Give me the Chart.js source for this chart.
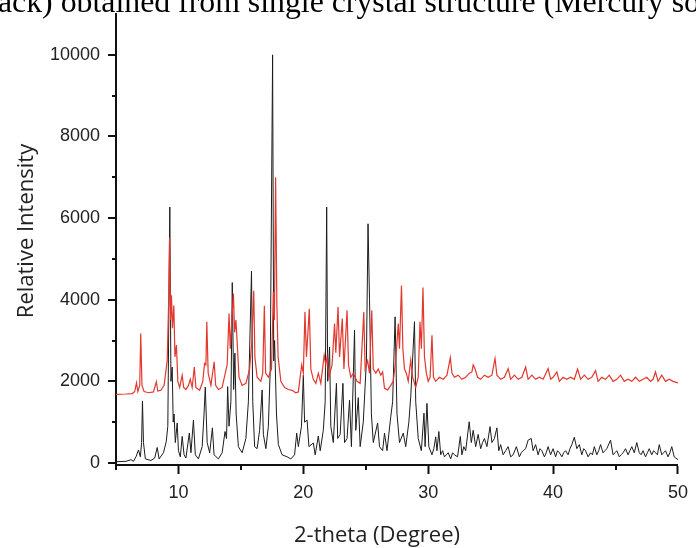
<!DOCTYPE html>
<html>
<head>
<meta charset="utf-8">
<script src="https://cdn.jsdelivr.net/npm/chart.js@4.4.1/dist/chart.umd.min.js"></script>
<style>
  html, body { margin: 0; padding: 0; background: #fff; }
  canvas { display: block; }
</style>
</head>
<body>
<canvas id="pxrd" width="696" height="548"></canvas>
<script>
// Tick positions
const xTicks = [10, 20, 30, 40, 50];
const xMinorTicks = [5, 15, 25, 35, 45];
const yTicks = [0, 2000, 4000, 6000, 8000, 10000];
const yMinorTicks = [1000, 3000, 5000, 7000, 9000];

// Simulated pattern (black), [2-theta, intensity]
const simulatedPattern = [
    [5.0, 30], [5.8, 40], [6.2, 80], [6.4, 40], [6.6, 150], [6.8, 320], [6.95, 150],
    [7.05, 500], [7.12, 1520], [7.2, 500], [7.35, 100], [7.8, 60], [8.1, 120], [8.3, 380],
    [8.45, 100], [8.8, 250], [9.02, 520], [9.15, 900], [9.31, 6270], [9.4, 2000], [9.5, 2350],
    [9.58, 1000], [9.65, 1200], [9.75, 500], [9.9, 980], [10.0, 300], [10.15, 150], [10.3, 650],
    [10.45, 200], [10.6, 120], [10.87, 730], [11.0, 250], [11.2, 1050], [11.35, 200], [11.6, 100],
    [11.9, 400], [12.05, 1200], [12.15, 1860], [12.3, 500], [12.5, 250], [12.72, 860], [12.85, 200],
    [13.2, 100], [13.5, 250], [13.73, 770], [13.85, 600], [13.94, 1870], [14.05, 900], [14.2, 1500],
    [14.31, 4420], [14.42, 1800], [14.52, 2690], [14.62, 1200], [14.8, 400], [15.1, 250], [15.4, 600],
    [15.6, 1500], [15.85, 4700], [15.95, 1500], [16.1, 400], [16.3, 350], [16.5, 800], [16.7, 1790],
    [16.8, 700], [17.0, 350], [17.2, 900], [17.35, 2300], [17.54, 10000], [17.63, 2500], [17.7, 3000],
    [17.85, 1200], [18.0, 450], [18.3, 200], [18.7, 150], [19.0, 100], [19.3, 200], [19.47, 730],
    [19.6, 400], [19.85, 900], [20.0, 2150], [20.1, 1000], [20.3, 1050], [20.45, 400], [20.8, 490],
    [20.95, 200], [21.2, 660], [21.35, 300], [21.6, 800], [21.75, 1500], [21.87, 6270], [21.95, 2000],
    [22.1, 2840], [22.2, 900], [22.4, 500], [22.65, 1950], [22.75, 600], [22.95, 700], [23.17, 1950],
    [23.3, 500], [23.5, 600], [23.7, 1540], [23.85, 400], [24.1, 3250], [24.2, 800], [24.4, 1600],
    [24.55, 400], [24.8, 1000], [25.05, 2500], [25.18, 5860], [25.3, 4000], [25.45, 1200], [25.6, 500],
    [25.95, 980], [26.1, 400], [26.35, 300], [26.5, 730], [26.7, 300], [27.0, 1130], [27.15, 1500],
    [27.35, 3580], [27.5, 1200], [27.7, 500], [28.0, 730], [28.2, 400], [28.45, 1000], [28.6, 1620],
    [28.9, 3460], [29.0, 1500], [29.2, 600], [29.45, 300], [29.66, 1220], [29.75, 400], [29.9, 1460],
    [30.05, 400], [30.3, 200], [30.45, 350], [30.6, 640], [30.7, 300], [30.85, 770], [31.0, 200],
    [31.15, 300], [31.3, 150], [31.45, 200], [31.6, 250], [31.8, 100], [31.95, 250], [32.1, 200],
    [32.35, 150], [32.57, 650], [32.7, 200], [32.85, 400], [33.0, 300], [33.28, 1010], [33.45, 500],
    [33.6, 800], [33.8, 400], [34.0, 700], [34.2, 350], [34.35, 500], [34.5, 600], [34.7, 400],
    [34.95, 890], [35.1, 500], [35.3, 600], [35.5, 860], [35.65, 300], [35.8, 450], [36.0, 200],
    [36.2, 300], [36.4, 400], [36.6, 150], [36.8, 200], [37.06, 400], [37.3, 150], [37.45, 250],
    [37.6, 300], [37.8, 350], [38.0, 560], [38.25, 600], [38.4, 300], [38.6, 450], [38.8, 200],
    [38.95, 350], [39.1, 300], [39.3, 150], [39.45, 250], [39.6, 400], [39.8, 200], [40.0, 350],
    [40.2, 150], [40.35, 300], [40.5, 250], [40.7, 150], [40.85, 250], [41.0, 300], [41.2, 200],
    [41.35, 350], [41.5, 450], [41.7, 630], [41.9, 350], [42.1, 450], [42.3, 200], [42.45, 350],
    [42.6, 300], [42.8, 150], [43.0, 250], [43.15, 200], [43.3, 400], [43.5, 200], [43.65, 300],
    [43.8, 450], [44.0, 250], [44.15, 300], [44.3, 350], [44.6, 560], [44.8, 200], [44.95, 250],
    [45.1, 300], [45.3, 150], [45.45, 200], [45.6, 250], [45.8, 350], [46.0, 200], [46.15, 300],
    [46.3, 400], [46.5, 250], [46.7, 500], [46.9, 250], [47.05, 200], [47.2, 300], [47.4, 150],
    [47.55, 250], [47.7, 350], [47.9, 200], [48.05, 300], [48.2, 250], [48.35, 200], [48.5, 450],
    [48.7, 200], [48.85, 250], [49.0, 300], [49.2, 150], [49.35, 250], [49.5, 400], [49.7, 150],
    [50.0, 80]
];

// Experimental pattern (red), [2-theta, intensity]
const experimentalPattern = [
    [5.0, 1680], [5.8, 1690], [6.3, 1700], [6.5, 1750], [6.64, 1960], [6.75, 1750], [6.9, 1900],
    [6.98, 3170], [7.08, 1900], [7.25, 1750], [7.6, 1720], [8.0, 1740], [8.23, 1990], [8.35, 1760],
    [8.6, 1780], [8.85, 1900], [8.97, 2190], [9.1, 2500], [9.22, 4000], [9.29, 5530], [9.37, 3500],
    [9.44, 4110], [9.52, 3300], [9.63, 3860], [9.72, 2600], [9.84, 2890], [9.95, 2000], [10.1, 1850],
    [10.3, 2150], [10.42, 1850], [10.6, 1800], [10.8, 1900], [10.95, 2050], [11.1, 1850], [11.27, 2350],
    [11.4, 1850], [11.7, 1780], [11.95, 2000], [12.09, 2440], [12.2, 2400], [12.27, 3460], [12.38, 2200],
    [12.6, 1900], [12.86, 2480], [12.98, 1900], [13.2, 1800], [13.5, 1850], [13.75, 2200], [13.9, 2400],
    [14.05, 3660], [14.15, 2800], [14.22, 3200], [14.4, 4150], [14.5, 3200], [14.6, 3500], [14.7, 2970],
    [14.85, 2100], [15.1, 1900], [15.4, 1950], [15.7, 2300], [15.88, 3000], [16.03, 4220], [16.12, 2600],
    [16.3, 2100], [16.6, 2000], [16.75, 2200], [16.88, 3850], [16.98, 2200], [17.2, 2100], [17.45, 2300],
    [17.6, 4200], [17.68, 3500], [17.78, 7000], [17.88, 3900], [17.98, 2600], [18.2, 2000], [18.5, 1850],
    [18.8, 1800], [19.1, 1780], [19.4, 1720], [19.6, 1740], [19.87, 2400], [20.0, 2200], [20.13, 3700],
    [20.25, 2600], [20.48, 3780], [20.6, 2300], [20.8, 2050], [21.0, 1950], [21.2, 2200], [21.4, 1950],
    [21.67, 2640], [21.8, 2400], [21.9, 2600], [22.05, 2100], [22.3, 2400], [22.5, 3415], [22.6, 2700],
    [22.78, 3820], [22.9, 2600], [23.12, 3540], [23.25, 2300], [23.5, 3740], [23.62, 2400], [23.8, 2100],
    [24.0, 2200], [24.3, 2000], [24.55, 1950], [24.84, 3700], [24.95, 2300], [25.15, 2500], [25.3, 2200],
    [25.48, 3740], [25.6, 2300], [25.8, 2200], [26.0, 2300], [26.2, 2150], [26.35, 2230], [26.5, 1830],
    [26.75, 1790], [27.0, 1900], [27.2, 2000], [27.4, 2520], [27.6, 3415], [27.7, 2800], [27.86, 4350],
    [27.97, 2800], [28.1, 2300], [28.25, 2200], [28.4, 2000], [28.6, 2520], [28.75, 2100], [29.0, 1850],
    [29.2, 2100], [29.34, 3460], [29.45, 2800], [29.58, 4300], [29.7, 2600], [29.85, 2200], [30.0, 2000],
    [30.15, 2100], [30.3, 3130], [30.42, 2100], [30.6, 2000], [30.9, 2100], [31.2, 2050], [31.5, 2150],
    [31.77, 2580], [31.9, 2200], [32.1, 2100], [32.4, 2150], [32.7, 2050], [33.0, 2100], [33.3, 2200],
    [33.5, 2230], [33.6, 2400], [33.76, 2300], [33.95, 2100], [34.2, 2050], [34.5, 2150], [34.8, 2100],
    [35.1, 2150], [35.35, 2560], [35.5, 2150], [35.8, 2050], [36.1, 2100], [36.4, 2310], [36.6, 2050],
    [36.9, 2150], [37.2, 2050], [37.5, 2100], [37.8, 2350], [38.0, 2050], [38.3, 2150], [38.6, 2050],
    [38.9, 2100], [39.2, 2050], [39.6, 2310], [39.8, 2050], [40.0, 2100], [40.3, 2230], [40.5, 2000],
    [40.8, 2100], [41.1, 2050], [41.4, 2100], [41.7, 2050], [41.96, 2300], [42.2, 2050], [42.5, 2150],
    [42.8, 2050], [43.1, 2100], [43.4, 2260], [43.6, 2000], [43.9, 2100], [44.2, 2050], [44.5, 2150],
    [44.8, 2000], [45.1, 2050], [45.4, 2150], [45.7, 2000], [46.0, 2050], [46.3, 2000], [46.6, 2100],
    [46.9, 2000], [47.2, 2050], [47.5, 2100], [47.8, 2000], [48.0, 2050], [48.2, 2230], [48.4, 2000],
    [48.7, 2150], [49.0, 2000], [49.3, 2050], [49.6, 2000], [50.0, 1960]
];

const toPoints = pattern => pattern.map(p => ({ x: p[0], y: p[1] }));

const tickFont = { family: '"Liberation Sans", Arial, sans-serif', size: 18 };
const titleFont = '22px "Open Sans", sans-serif';

// Draws y major/minor ticks, x minor ticks, axis titles and the clipped caption line
const decorPlugin = {
    id: 'decor',
    afterDraw(chart) {
        const ctx = chart.ctx;
        const xs = chart.scales.x;
        const ys = chart.scales.y;
        const area = chart.chartArea;
        ctx.save();
        ctx.strokeStyle = '#111';
        ctx.lineWidth = 2;
        ctx.beginPath();
        for (const v of xMinorTicks) {
            const px = Math.round(xs.getPixelForValue(v));
            ctx.moveTo(px, area.bottom);
            ctx.lineTo(px, area.bottom + 5);
        }
        for (const v of yTicks) {
            const py = Math.round(ys.getPixelForValue(v));
            ctx.moveTo(area.left, py);
            ctx.lineTo(area.left - 8, py);
        }
        for (const v of yMinorTicks) {
            const py = Math.round(ys.getPixelForValue(v));
            ctx.moveTo(area.left, py);
            ctx.lineTo(area.left - 4, py);
        }
        ctx.stroke();

        ctx.fillStyle = '#222';
        ctx.font = titleFont;
        ctx.textAlign = 'center';
        ctx.textBaseline = 'alphabetic';
        ctx.fillText('2-theta (Degree)', 377, 542);
        ctx.translate(33, 231);
        ctx.rotate(-Math.PI / 2);
        ctx.fillText('Relative Intensity', 0, 0);
        ctx.restore();

        // caption from the surrounding document, cut by the image edge
        ctx.save();
        const caption = 'ack) obtained from single crystal structure (Mercury so';
        ctx.font = '26px "Liberation Serif", "Times New Roman", serif';
        const w = ctx.measureText(caption).width;
        const size = 26 * 702 / w;
        ctx.font = size.toFixed(2) + 'px "Liberation Serif", "Times New Roman", serif';
        ctx.fillStyle = '#000';
        ctx.textAlign = 'left';
        ctx.textBaseline = 'alphabetic';
        ctx.fillText(caption, -2, 12);
        ctx.restore();
    }
};

const chart = new Chart(document.getElementById('pxrd').getContext('2d'), {
    type: 'line',
    data: {
        datasets: [
            {
                label: 'Experimental',
                data: toPoints(experimentalPattern),
                borderColor: '#e2382d',
                borderWidth: 1.2,
                pointRadius: 0,
                tension: 0,
                fill: false
            },
            {
                label: 'Simulated',
                data: toPoints(simulatedPattern),
                borderColor: '#1c1c1c',
                borderWidth: 1,
                pointRadius: 0,
                tension: 0,
                fill: false
            }
        ]
    },
    options: {
        responsive: false,
        animation: false,
        layout: { padding: { top: 14, right: 13, left: 0, bottom: 0 } },
        plugins: {
            legend: { display: false },
            tooltip: { enabled: false }
        },
        scales: {
            x: {
                type: 'linear',
                min: 5,
                max: 50,
                afterBuildTicks: scale => { scale.ticks = xTicks.map(v => ({ value: v })); },
                afterFit: scale => { scale.height = 83; },
                grid: { drawOnChartArea: false, tickLength: 9, tickWidth: 2, tickColor: '#111' },
                border: { color: '#111', width: 2 },
                ticks: { font: tickFont, color: '#222', padding: 8, maxRotation: 0, autoSkip: false }
            },
            y: {
                min: -50,
                max: 11000,
                afterBuildTicks: scale => { scale.ticks = yTicks.map(v => ({ value: v })); },
                afterFit: scale => { scale.width = 116; },
                // tick marks drawn by the plugin; the transparent ones only space the labels
                grid: { drawOnChartArea: false, tickLength: 16, tickWidth: 2, tickColor: 'rgba(0,0,0,0)' },
                border: { color: '#111', width: 2 },
                ticks: {
                    font: tickFont,
                    color: '#222',
                    padding: 0,
                    autoSkip: false,
                    callback: v => String(v)
                }
            }
        }
    },
    plugins: [decorPlugin]
});
</script>
</body>
</html>
